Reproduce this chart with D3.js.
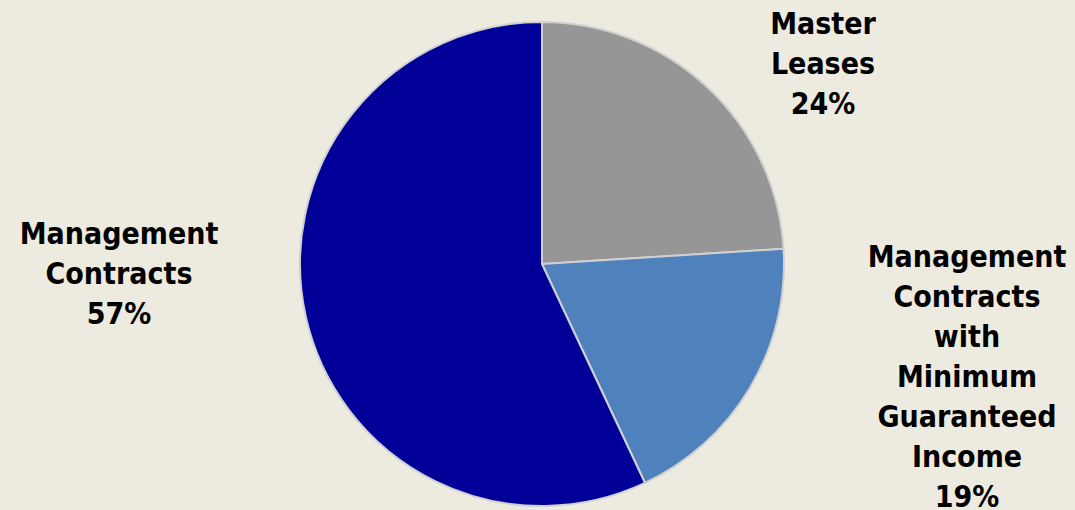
<!DOCTYPE html>
<html>
<head>
<meta charset="utf-8">
<script src="https://cdn.jsdelivr.net/npm/d3@7"></script>
<style>
  html, body { margin: 0; padding: 0; background: #EDEBE0; }
  svg { display: block; }
  text { font-family: "DejaVu Sans Condensed", "DejaVu Sans", sans-serif; font-weight: bold; font-stretch: condensed; font-size: 30px; fill: #000; }
</style>
</head>
<body>
<svg id="chart" width="1075" height="510"></svg>
<script>
// Revenue mix by contract type (percent)
const categories = [
  "Master Leases",
  "Management Contracts with Minimum Guaranteed Income",
  "Management Contracts"
];
const shares = [24, 19, 57];
const labelLines = [
  ["Master", "Leases"],
  ["Management", "Contracts", "with", "Minimum", "Guaranteed", "Income"],
  ["Management", "Contracts"]
];
const colors = ["#969696", "#4F81BD", "#000099"];

const W = 1075, H = 510;
const cx = 542, cy = 264, radius = 242;

// Label anchor: centre x and first baseline y for each label block
const labelAnchors = [
  { x: 823, y: 34 },
  { x: 967, y: 267 },
  { x: 119, y: 244 }
];
const lineHeight = 40;

const svg = d3.select("#chart");
svg.append("rect").attr("width", W).attr("height", H).attr("fill", "#EDEBE0");

const data = categories.map((c, i) => ({ name: c, value: shares[i], color: colors[i], lines: labelLines[i] }));

const pie = d3.pie().sort(null).value(d => d.value);
const arc = d3.arc().innerRadius(0).outerRadius(radius);

const g = svg.append("g").attr("transform", `translate(${cx},${cy})`);
g.selectAll("path")
  .data(pie(data))
  .join("path")
  .attr("d", arc)
  .attr("fill", d => d.data.color)
  .attr("stroke", "#D0D0D0")
  .attr("stroke-width", 2)
  .attr("stroke-linejoin", "round");

data.forEach((d, i) => {
  const a = labelAnchors[i];
  const t = svg.append("text").attr("text-anchor", "middle");
  const lines = d.lines.concat([d.value + "%"]);
  lines.forEach((ln, j) => {
    t.append("tspan").attr("x", a.x).attr("y", a.y + j * lineHeight).text(ln);
  });
});
</script>
</body>
</html>
